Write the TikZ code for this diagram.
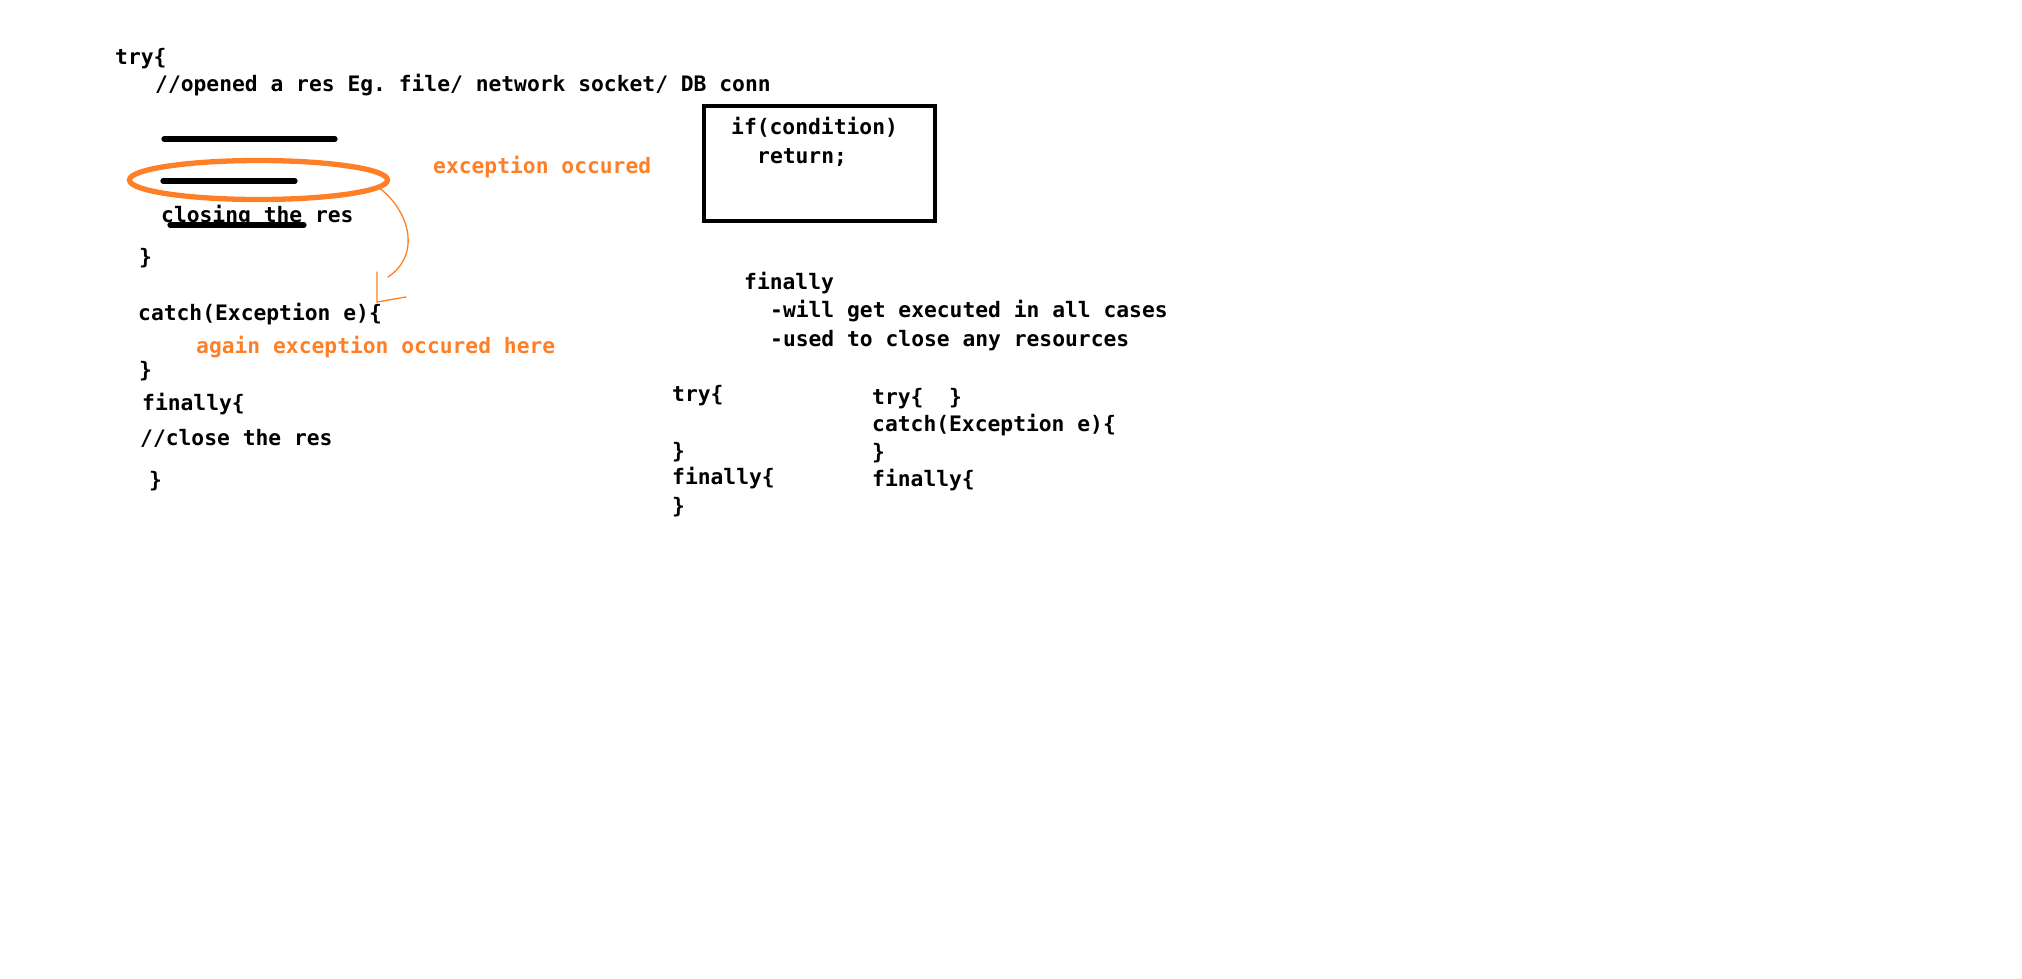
\documentclass[tikz,border=0pt]{standalone}
\usepackage{fontspec}
\setmonofont{DejaVu Sans Mono}
\usetikzlibrary{shapes.geometric}
\definecolor{paintorange}{RGB}{255,127,39}

\begin{document}
\begin{tikzpicture}[x=1pt, y=-1pt,
  every node/.style={anchor=base west, inner sep=0pt, font=\ttfamily\bfseries\fontsize{21.3}{25}\selectfont},
  note/.style={text=paintorange},
  pen/.style={line width=5.2pt, line cap=round},
  scribble/.style={draw=paintorange, line width=1.3pt, line cap=round}]
  \useasboundingbox (0,0) rectangle (2022,978);

  \node (try) at (115,64) {try\{};
  \node (open) at (155,91) {//opened a res Eg. file/ network socket/ DB conn};
  \draw [pen] (164,139) -- (335,139);
  \draw [pen] (163,181) -- (295,181);
  \node (close) at (161,222) {closing the res};
  \draw [pen] (170,225) -- (304,225);
  \node (tryend) at (139,264) {\}};
  \node [ellipse, draw=paintorange, line width=5.3pt, anchor=center, minimum width=258pt, minimum height=39pt] (err) at (258.5,180) {};
  \node [note] (errnote) at (433,173) {exception occured};

  \draw [scribble] (err.-4) .. controls (410,212) and (421,255) .. (388,277);
  \coordinate (tip) at (377,302);
  \draw [scribble] (377,272) -- (tip) -- (406,297);

  \node (catch) at (138,320) {catch(Exception e)\{};
  \node [note] (again) at (196,353) {again exception occured here};
  \node (catchend) at (139,377) {\}};
  \node (fin) at (142,410) {finally\{};
  \node (finbody) at (140,445) {//close the res};
  \node (finend) at (149,487) {\}};

  \draw [line width=4pt] (704,106) rectangle (935,221);
  \node (cond) at (731,134) {if(condition)};
  \node (ret) at (757,163) {return;};

  \node (rule) at (744,289) {finally};
  \node (rule1) at (770,317) {-will get executed in all cases};
  \node (rule2) at (770,346) {-used to close any resources};

  \foreach \y/\t [count=\i] in {401/{try\{}, 458/{\}}, 484/{finally\{}, 513/{\}}} {
    \node (T\i) at (672,\y) {\t};
  }
  \foreach \y/\t [count=\j] in {404/{try\{\ \ \}}, 431/{catch(Exception e)\{}, 459/{\}}, 486/{finally\{}} {
    \node (C\j) at (872,\y) {\t};
  }

\end{tikzpicture}
\end{document}
